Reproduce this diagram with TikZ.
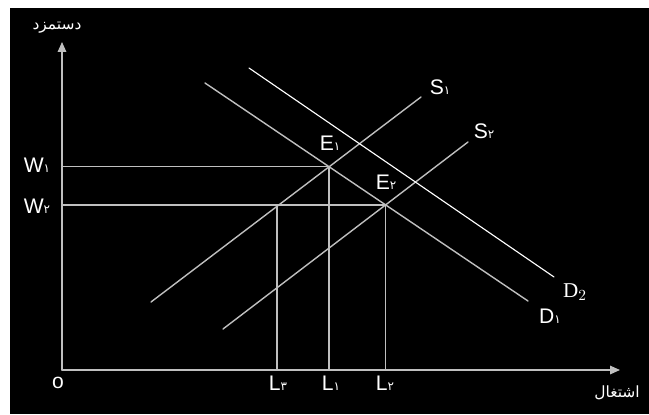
\documentclass[tikz,border=0pt]{standalone}
\usepackage{fontspec}
\setmainfont{Liberation Sans}
\newfontfamily\fafont[Script=Arabic]{DejaVu Sans}
\newfontfamily\serifD{Liberation Serif}
\TeXXeTstate=1
\usetikzlibrary{
	arrows.meta,
	intersections
}
\colorlet{LGrey}{white!75!black}
\newcommand{\fd}[1]{{\fafont\fontsize{8.5}{9}\selectfont #1}}

\begin{document}
\begin{tikzpicture}[x=0.025cm, y=-0.025cm, line cap=round, line join=round,
	>={Triangle[width=6pt,length=7pt]},
	lbl/.style={text=white, font=\fontsize{15}{17}\selectfont, inner sep=0pt},
	gline/.style={LGrey, line width=1pt}]
		
		% -- Frame ---------------------------------------------------
		\useasboundingbox (0,0) rectangle (649,414);
		\fill[white] (0,0) rectangle (649,414);
		\fill[black] (10,8) rectangle (649,414);
		
		% -- Axes ----------------------------------------------------
		\coordinate (O) at (62,370);
		\draw[gline,->] (O) -- (62,42);
		\draw[gline,->] (O) -- (620,370);
		\node[lbl] (o) at (58,383) {o};
		\node[lbl] (wage) at (57,28) {\fafont\fontsize{11}{13}\selectfont\beginR دستمزد\endR};
		\node[lbl] (empl) at (617,393) {\fafont\fontsize{11}{13}\selectfont\beginR اشتغال\endR};
		
		% -- Supply and demand ---------------------------------------
		\draw[gline, name path=s1] (151,302) -- (421,97);
		\draw[gline, name path=s2] (223,329) -- (468,142);
		\draw[gline, name path=d1] (205,83) -- (528,301);
		\draw[white, line width=0.8pt] (249,68) -- (554,277);
		
		\path[name intersections={of=s1 and d1, by=E1}];
		\path[name intersections={of=s2 and d1, by=E2}];
		\coordinate (L3) at (277,370);
		
		% -- Guide lines ---------------------------------------------
		\draw[gline] (E1 -| O) -- (E1) -- (E1 |- O);
		\draw[gline] (E2 -| O) -- (E2) -- (E2 |- O);
		\draw[gline] (L3) -- (L3 |- E2);
		
		% -- Labels --------------------------------------------------
		\node[lbl] (w1) at (37,165) {W\fd{۱}};
		\node[lbl] (w2) at (37,206) {W\fd{۲}};
		\node[lbl] (e1) at (330,143) {E\fd{۱}};
		\node[lbl] (e2) at (386,182) {E\fd{۲}};
		\node[lbl] (s1) at (440,87) {S\fd{۱}};
		\node[lbl] (s2) at (484,131) {S\fd{۲}};
		\node[lbl] (d1) at (550,316) {D\fd{۱}};
		\node[lbl, font=\serifD\fontsize{15}{17}\selectfont] (d2) at (575,292) {D$_2$};
		\node[lbl] (l3) at (278,383) {L\fd{۳}};
		\node[lbl] (l1) at (331,383) {L\fd{۱}};
		\node[lbl] (l2) at (385,383) {L\fd{۲}};
		
	\end{tikzpicture}
\end{document}
